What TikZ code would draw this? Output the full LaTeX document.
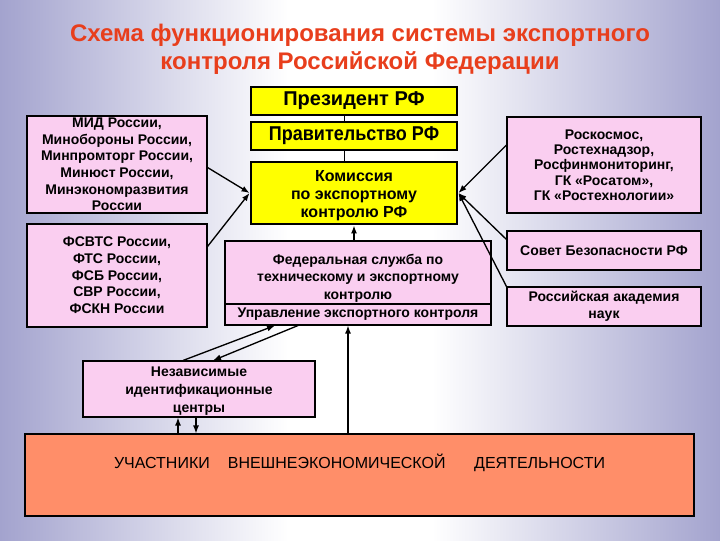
\documentclass[tikz,border=0pt]{standalone}
\usepackage{fontspec}
\setmainfont{Liberation Sans}
\usetikzlibrary{arrows.meta,calc}
\definecolor{bgblue}{RGB}{48,48,145}
\definecolor{pinkf}{RGB}{250,206,240}
\definecolor{salmon}{RGB}{255,142,105}
\definecolor{titred}{RGB}{232,62,28}
\definecolor{ylw}{RGB}{255,255,0}
\pgfdeclarehorizontalshading{bgshade}{100bp}{color(0bp)=(bgblue); color(45bp)=(white); color(55bp)=(white); color(100bp)=(bgblue)}
\tikzset{
  pinkbox/.style={draw=black, line width=0.8pt, fill=pinkf, inner sep=0pt, align=center,
    font=\bfseries\fontsize{10.5}{12.5}\selectfont},
  ybox/.style={draw=black, line width=2.2pt, fill=ylw, inner sep=0pt, align=center,
    minimum width=206*0.75pt},
  conn/.style={line width=1pt, -{Latex[length=6pt,width=4.5pt]}},
  thinline/.style={line width=0.6pt}
}
\begin{document}
\begin{tikzpicture}[x=0.75pt,y=-0.75pt]
\useasboundingbox (0,0) rectangle (720,540);
\shade[shading=bgshade] (0,0) rectangle (720,540);

\node[font=\bfseries\fontsize{18}{21}\selectfont, text=titred, align=center] (title) at (360,49.5)
  {Схема функционирования системы экспортного\\контроля Российской Федерации};

\node[ybox, minimum height=28*0.75pt, font=\bfseries\fontsize{15}{18}\selectfont] (pres) at (354,101) {Президент РФ};
\node[ybox, minimum height=28*0.75pt, font=\bfseries\fontsize{15}{18}\selectfont] (gov) at (354,136) {\scalebox{0.9}[1]{Правительство РФ}};
\node[ybox, minimum height=62*0.75pt, font=\bfseries\fontsize{12}{13.5}\selectfont] (kom) at (354,193) {\rule{0pt}{12.5pt}Комиссия\\по экспортному\\контролю РФ};

\node[pinkbox, minimum width=180*0.75pt, minimum height=97*0.75pt] (mid) at (117,164.5)
  {МИД России,\\Минобороны России,\\Минпромторг России,\\Минюст России,\\Минэкономразвития\\России};
\node[pinkbox, minimum width=180*0.75pt, minimum height=103*0.75pt] (fsb) at (117,275.5)
  {ФСВТС России,\\ФТС России,\\ФСБ России,\\СВР России,\\ФСКН России};

\node[pinkbox, minimum width=194*0.75pt, minimum height=96*0.75pt, font=\bfseries\fontsize{10.5}{11.5}\selectfont] (ros) at (604,165)
  {Роскосмос,\\Ростехнадзор,\\Росфинмониторинг,\\ГК «Росатом»,\\ГК «Ростехнологии»};
\node[pinkbox, minimum width=194*0.75pt, minimum height=39*0.75pt] (sov) at (604,250.5) {Совет Безопасности РФ};
\node[pinkbox, minimum width=194*0.75pt, minimum height=39*0.75pt] (ran) at (604,306.5) {Российская академия\\наук};

\node[pinkbox, minimum width=266*0.75pt, minimum height=63*0.75pt, font=\bfseries\fontsize{10.5}{13}\selectfont] (fedtop) at (358,272.5)
  {\rule{0pt}{16pt}Федеральная служба по\\техническому и экспортному\\контролю};
\node[pinkbox, minimum width=266*0.75pt, minimum height=21*0.75pt] (fedbot) at (358,314.5)
  {Управление экспортного контроля};

\node[pinkbox, minimum width=232*0.75pt, minimum height=56*0.75pt, font=\bfseries\fontsize{10.5}{13.5}\selectfont] (nez) at (199,389)
  {\rule{0pt}{10pt}Независимые\\идентификационные\\центры};

\node[draw=black, line width=0.8pt, fill=salmon, minimum width=669*0.75pt, minimum height=82*0.75pt, inner sep=0pt] (uch) at (359.5,475) {};
\node[font=\fontsize{12}{14}\selectfont, inner sep=0pt] (uchtext) at (359.5,463)
  {УЧАСТНИКИ\hspace{13.5pt}ВНЕШНЕЭКОНОМИЧЕСКОЙ\hspace{21.5pt}ДЕЯТЕЛЬНОСТИ};

% connectors
\draw[thinline] ($(pres.south)+(-10,0)$) -- ($(gov.north)+(-10,0)$);
\draw[thinline] ($(gov.south)+(-10,0)$) -- ($(kom.north)+(-10,0)$);

\draw[conn] ($(mid.east)+(0,3)$) -- (kom.west);
\draw[conn] ($(fsb.north east)+(0,23)$) -- (kom.west);
\draw[conn] ($(ros.west)+(0,-20)$) -- (kom.east);
\draw[conn] ($(sov.north west)+(0,9)$) -- (kom.east);
\draw[conn] (ran.north west) -- (kom.east);
\draw[conn] (fedtop.north -| kom.south) -- (kom.south);

\draw[conn] ($(nez.north)+(-16,0)$) -- ($(fedbot.south)+(-83,0)$);
\draw[conn] ($(fedbot.south)+(-60,0)$) -- ($(nez.north)+(14,0)$);
\draw[conn] ($(uch.north)+(-11.5,0)$) -- ($(fedbot.south)+(-10,0)$);

\coordinate (a1) at ($(nez.south)+(-21,0)$);
\coordinate (a2) at ($(nez.south)+(-3,0)$);
\draw[conn] (a1 |- uch.north) -- (a1);
\draw[conn] (a2) -- (a2 |- uch.north);
\end{tikzpicture}
\end{document}
